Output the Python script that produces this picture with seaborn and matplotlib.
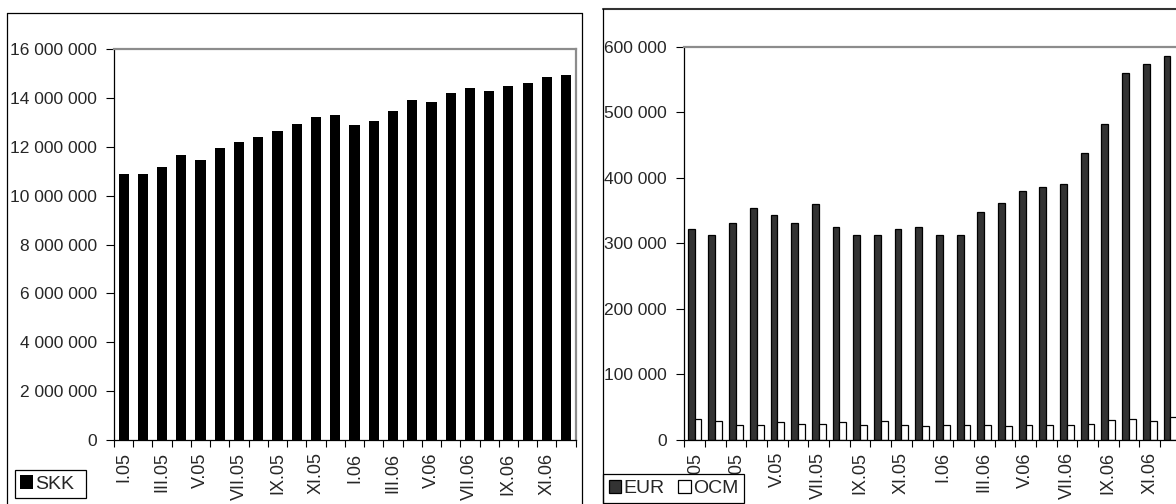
import numpy as np
import pandas as pd
import matplotlib
matplotlib.use("Agg")
import matplotlib.pyplot as plt
from matplotlib.lines import Line2D
from matplotlib.ticker import FuncFormatter
import seaborn as sns

# Monthly balances, January 2005 - December 2006
months = ["I.05", "II.05", "III.05", "IV.05", "V.05", "VI.05",
          "VII.05", "VIII.05", "IX.05", "X.05", "XI.05", "XII.05",
          "I.06", "II.06", "III.06", "IV.06", "V.06", "VI.06",
          "VII.06", "VIII.06", "IX.06", "X.06", "XI.06", "XII.06"]

skk = [10880000, 10880000, 11190000, 11670000, 11470000, 11970000,
       12200000, 12400000, 12670000, 12940000, 13220000, 13320000,
       12890000, 13060000, 13460000, 13920000, 13830000, 14200000,
       14420000, 14280000, 14480000, 14630000, 14870000, 14960000]

eur = [322000, 312000, 331000, 353000, 343000, 331000,
       360000, 324000, 313000, 312000, 321000, 325000,
       313000, 312000, 348000, 362000, 379000, 385000,
       390000, 438000, 482000, 560000, 574000, 586000]

ocm = [32000, 28000, 22000, 22000, 26000, 24000,
       24000, 27000, 22000, 28000, 22000, 21000,
       22000, 22000, 22000, 21000, 22000, 22000,
       22000, 23000, 30000, 31000, 28000, 34000]

skk_ticks = list(range(0, 16000001, 2000000))
fx_ticks = list(range(0, 600001, 100000))

sns.set_theme(style="white")
plt.rcParams["font.family"] = ["Liberation Sans", "DejaVu Sans"]
FS_Y = 12.5
FS_X = 13
FS_LEG = 14

W, H = 1176, 504
fig = plt.figure(figsize=(W / 100, H / 100), dpi=100)


def px_axes(x0, x1, ytop, ybot):
    return fig.add_axes([x0 / W, (H - ybot) / H, (x1 - x0) / W, (ybot - ytop) / H])


space_fmt = FuncFormatter(lambda v, _: f"{v:,.0f}".replace(",", " "))


def style_axes(ax, yticks):
    n = len(months)
    ax.set_xlim(-0.5, n - 0.5)
    ax.set_ylim(yticks[0], yticks[-1])
    ax.set_yticks(yticks)
    ax.yaxis.set_major_formatter(space_fmt)
    # category boundaries carry the tick marks, every other month gets a label
    ax.set_xticks(np.arange(-0.5, n, 1.0))
    ax.set_xticklabels([])
    ax.set_xticks(np.arange(0, n, 2), minor=True)
    ax.set_xticklabels(months[::2], minor=True, rotation=90, fontsize=FS_X)
    ax.tick_params(axis="x", which="major", direction="out", length=5,
                   width=0.8, color="black", bottom=True)
    ax.tick_params(axis="x", which="minor", length=0, pad=9, bottom=True)
    ax.tick_params(axis="y", direction="out", length=6, width=0.8,
                   color="black", labelsize=FS_Y, pad=6.5, left=True)
    ax.set_xlabel("")
    ax.set_ylabel("")
    for side in ("left", "bottom"):
        ax.spines[side].set_color("black")
        ax.spines[side].set_linewidth(0.9)
    for side in ("top", "right"):
        ax.spines[side].set_visible(True)
        ax.spines[side].set_color("#8c8c8c")
        ax.spines[side].set_linewidth(1.6)


def boxed_legend(ax, x0, ybot, ncol, x1=None):
    handles, labels = ax.get_legend_handles_labels()
    if x1 is None:
        anchor, mode = (x0 / W, (H - ybot) / H), None
    else:
        anchor, mode = (x0 / W, (H - ybot) / H, (x1 - x0) / W, 0.05), "expand"
    leg = ax.legend(handles, labels, loc="lower left", mode=mode,
                    bbox_to_anchor=anchor, bbox_transform=fig.transFigure,
                    borderaxespad=0, frameon=True, fancybox=False,
                    framealpha=1, edgecolor="black", fontsize=FS_LEG,
                    ncol=ncol, columnspacing=0.7, handlelength=0.65,
                    handleheight=0.7, handletextpad=0.12, borderpad=0.27)
    leg.get_frame().set_linewidth(0.9)
    return leg


# Left panel: SKK
ax1 = px_axes(114, 575.7, 49.3, 440)
sns.barplot(x=months, y=skk, color="black", saturation=1, width=0.53,
            linewidth=0, label="SKK", ax=ax1)
style_axes(ax1, skk_ticks)
boxed_legend(ax1, 15, 498.3, 1, x1=86)

# Right panel: EUR and OCM
fx = pd.DataFrame({
    "month": months * 2,
    "value": eur + ocm,
    "currency": ["EUR"] * len(eur) + ["OCM"] * len(ocm),
})
ax2 = px_axes(684.3, 1180.7, 46.7, 439.5)
sns.barplot(data=fx, x="month", y="value", hue="currency",
            palette={"EUR": "#333333", "OCM": "white"}, saturation=1,
            width=0.66, edgecolor="black", linewidth=0.9, ax=ax2)
style_axes(ax2, fx_ticks)
boxed_legend(ax2, 603.3, 502.5, 2)

# Panel frames
tf = fig.transFigure
fx0, fx1, fy0, fy1 = 7.3 / W, 581.7 / W, (H - 12.7) / H, -0.01
for xs, ys in [([fx0, fx1], [fy0, fy0]), ([fx0, fx0], [fy0, fy1]),
               ([fx1, fx1], [fy0, fy1])]:
    fig.add_artist(Line2D(xs, ys, transform=tf, color="black", lw=0.9))
rx0, ry0 = 603.3 / W, (H - 9) / H
fig.add_artist(Line2D([rx0, 1.01], [ry0, ry0], transform=tf, color="#333333", lw=1.5))
fig.add_artist(Line2D([rx0, rx0], [ry0, -0.01], transform=tf, color="black", lw=0.9))

fig.savefig("out.png", dpi=100)
